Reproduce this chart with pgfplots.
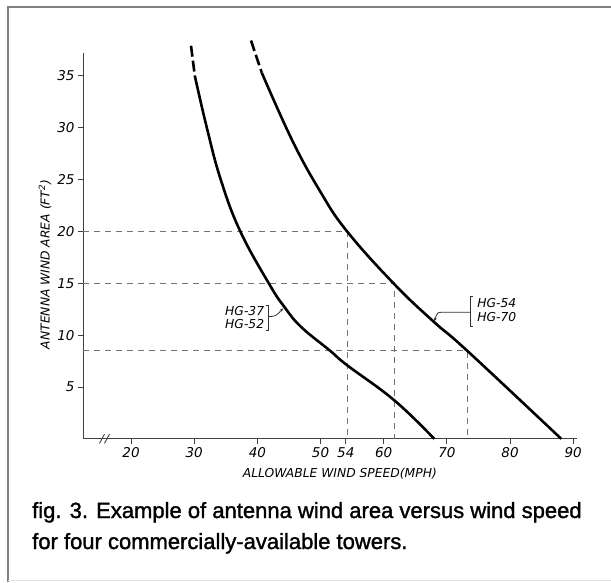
\documentclass[border=0pt]{standalone}
\usepackage{fontspec}
\setmainfont{Liberation Sans}
\newfontfamily\capfont{Liberation Sans}[FakeBold=1.4]
\newfontfamily\letfont{DejaVu Sans}
\usepackage{pgfplots}
\pgfplotsset{compat=1.18}
\usetikzlibrary{arrows.meta}

\begin{document}
\begin{tikzpicture}[x=1pt,y=1pt]
\useasboundingbox (0,0) rectangle (611,-582);
% frame of the figure
\draw[black!50, line width=1.3pt] (611,-7) -- (8,-7) -- (8,-582);
\draw[black!12, line width=1pt] (8,-580) -- (611,-580);

\begin{axis}[at={(83pt,-438.8pt)}, anchor=south west, scale only axis,
  width=494pt, height=385.8pt,
  xmin=12.4, xmax=90.6, ymin=0, ymax=37.2,
  axis lines=left, axis line style={-, line width=1pt, black!75},
  xtick={20,30,40,50,54,60,70,80,90}, ytick={5,10,15,20,25,30,35},
  tick align=outside, major tick length=5pt,
  tick style={line width=0.9pt, black!75},
  /pgf/number format/assume math mode=true,
  ticklabel style={font=\letfont\fontsize{13.5}{14}\selectfont\itshape},
  label style={font=\letfont\fontsize{12.3}{13}\selectfont\itshape},
  xlabel={ALLOWABLE WIND SPEED(MPH)},
  xlabel style={at={(axis description cs:0.52,-0.091)}, anchor=center},
  ylabel={ANTENNA WIND AREA (FT\textsuperscript{2})},
  ylabel style={at={(axis description cs:-0.077,0.452)}, anchor=center},
  clip=false]

% guide lines
\addplot[black!55, line width=0.8pt, dash pattern=on 6pt off 5pt] coordinates {(12.4,20) (54.2,20) (54.2,0)};
\addplot[black!55, line width=0.8pt, dash pattern=on 6pt off 5pt] coordinates {(12.4,15) (61.7,15) (61.7,0)};
\addplot[black!55, line width=0.8pt, dash pattern=on 6pt off 5pt] coordinates {(12.4,8.5) (73.2,8.5) (73.2,0)};

% HG-37 / HG-52
\addplot[black, line width=2.6pt, dash pattern=on 11pt off 4pt] coordinates {(29.5,37.9) (30.1,35)};
\addplot[black, line width=2.6pt, smooth, tension=0.7] coordinates {
  (30.1,35) (32.0,30) (34.2,25) (37.3,20) (41.9,14.9) (44.3,12.7)
  (46.9,10.8) (51.5,8.5) (54.2,7.1) (61.7,3.7) (68,0)};

% HG-54 / HG-70
\addplot[black, line width=2.6pt, dash pattern=on 11pt off 4pt] coordinates {(39.0,38.4) (40.7,35.3)};
\addplot[black, line width=2.6pt, smooth, tension=0.7] coordinates {
  (40.7,35.3) (45.5,28.8) (49.9,23.9) (54.2,20.0) (61.7,14.9) (67.9,11.3)
  (73.2,8.5) (88.1,0)};

% axis break
\draw[black!75, line width=0.9pt] (axis cs:15.0,-0.45) -- (axis cs:15.8,0.45);
\draw[black!75, line width=0.9pt] (axis cs:15.8,-0.45) -- (axis cs:16.6,0.45);

% labels
\begin{scope}[font=\letfont\fontsize{12.3}{13}\selectfont\itshape]
\node[anchor=east, inner sep=0pt] at (axis cs:41.1,12.3) {HG-37};
\node[anchor=east, inner sep=0pt] at (axis cs:41.1,11.1) {HG-52};
\draw[black!80, line width=0.8pt] (axis cs:41.3,12.9) -- (axis cs:41.7,12.9) -- (axis cs:41.7,10.5) -- (axis cs:41.3,10.5);
\draw[black!80, line width=0.8pt, -{Stealth[length=4pt]}] (axis cs:41.7,11.8) .. controls (axis cs:42.9,11.8) .. (axis cs:44.1,12.6);
\node[anchor=west, inner sep=0pt] at (axis cs:74.8,13.1) {HG-54};
\node[anchor=west, inner sep=0pt] at (axis cs:74.8,11.75) {HG-70};
\draw[black!80, line width=0.8pt] (axis cs:74.1,13.7) -- (axis cs:73.7,13.7) -- (axis cs:73.7,10.8) -- (axis cs:74.1,10.8);
\draw[black!80, line width=0.8pt, -{Stealth[length=4pt]}] (axis cs:73.7,12.2) -- (axis cs:69.3,12.2) .. controls (axis cs:68.5,12.2) .. (axis cs:68.0,11.3);
\end{scope}
\end{axis}

\node[anchor=base west, inner sep=0pt, font=\capfont\fontsize{22}{22}\selectfont] at (32,-518) {fig. 3. Example of antenna wind area versus wind speed};
\node[anchor=base west, inner sep=0pt, font=\capfont\fontsize{22}{22}\selectfont] at (32,-549) {for four commercially-available towers.};
\end{tikzpicture}
\end{document}
